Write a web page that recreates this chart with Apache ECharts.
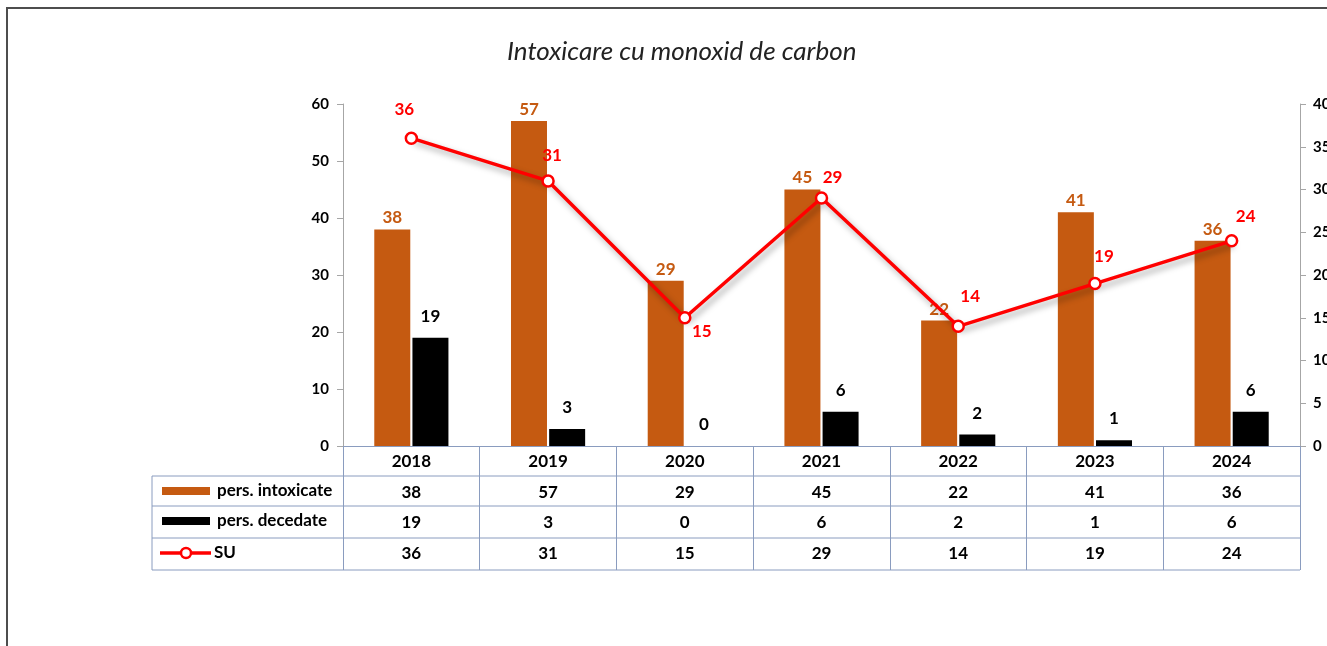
<!DOCTYPE html>
<html>
<head>
<meta charset="utf-8">
<script src="https://cdn.jsdelivr.net/npm/echarts@6/dist/echarts.min.js"></script>
<style>
  html, body { margin: 0; padding: 0; background: #fff; }
  #chart { width: 1327px; height: 646px; }
</style>
</head>
<body>
<div id="chart"></div>
<script>
// Intoxicare cu monoxid de carbon - bars + line + data table

const years = ['2018', '2019', '2020', '2021', '2022', '2023', '2024'];
const intoxicated = [38, 57, 29, 45, 22, 41, 36];
const deceased = [19, 3, 0, 6, 2, 1, 6];
const su = [36, 31, 15, 29, 14, 19, 24];
const seriesNames = ['pers. intoxicate', 'pers. decedate', 'SU'];

// label offsets for the SU line (style only)
const suLabelOffsets = [[-7, -29], [4, -25], [17, 14], [11, -21], [12, -30], [9, -27], [14, -24]];

const FONT = 'Lato, "Open Sans", sans-serif';
const ORANGE = '#c55a11';
const RED = '#ff0000';
const TABLE = '#8a9cbf';

// layout
const gridLeft = 343, gridTop = 104, gridBottomY = 446, gridRightX = 1300;
const tableLeft = 152;
const rowLines = [476, 506, 538, 570];
const rowMid = [491, 521, 553];

const chart = echarts.init(document.getElementById('chart'));

const suData = su.map((v, i) => ({
    value: v,
    label: { offset: suLabelOffsets[i] }
}));

const graphics = [
    // outer frame
    { type: 'rect', shape: { x: 7, y: 8, width: 1360, height: 680 },
      style: { fill: null, stroke: '#4d4d4d', lineWidth: 2 }, silent: true },
    // table left border
    { type: 'line', shape: { x1: tableLeft, y1: rowLines[0], x2: tableLeft, y2: rowLines[3] },
      style: { stroke: TABLE, lineWidth: 1 } }
];
rowLines.forEach(y => {
    graphics.push({ type: 'line', shape: { x1: tableLeft, y1: y, x2: gridRightX, y2: y },
        style: { stroke: TABLE, lineWidth: 1 } });
});
// legend keys
graphics.push(
    { type: 'rect', shape: { x: 162, y: rowMid[0] - 4, width: 48, height: 8 }, style: { fill: ORANGE } },
    { type: 'rect', shape: { x: 162, y: rowMid[1] - 4, width: 48, height: 8 }, style: { fill: '#000' } },
    { type: 'line', shape: { x1: 160, y1: rowMid[2], x2: 211, y2: rowMid[2] }, style: { stroke: RED, lineWidth: 3.5 } },
    { type: 'circle', shape: { cx: 186, cy: rowMid[2], r: 5 }, style: { fill: '#fff', stroke: RED, lineWidth: 2.5 } }
);
seriesNames.forEach((n, i) => {
    graphics.push({ type: 'text', x: i === 2 ? 214 : 217, y: rowMid[i],
        style: { text: n, font: 'bold 17px ' + FONT, fill: '#000', verticalAlign: 'middle' } });
});

const option = {
    animation: false,
    backgroundColor: '#fff',
    title: {
        text: 'Intoxicare cu monoxid de carbon',
        left: 502,
        top: 34,
        textStyle: { fontFamily: FONT, fontStyle: 'italic', fontWeight: 'normal', fontSize: 26, color: '#222' }
    },
    grid: {
        left: gridLeft, top: gridTop, right: 1327 - gridRightX, bottom: 646 - gridBottomY,
        outerBoundsMode: 'none'
    },
    xAxis: {
        type: 'category',
        data: years,
        axisLine: { lineStyle: { color: TABLE, width: 1 } },
        axisTick: { show: true, interval: 0, length: 124, lineStyle: { color: TABLE } },
        axisLabel: {
            interval: 0,
            margin: 0,
            fontFamily: FONT,
            fontWeight: 'bold',
            fontSize: 17,
            color: '#000',
            lineHeight: 30.7,
            formatter: (v, i) => [v, intoxicated[i], deceased[i], su[i]].join('\n')
        }
    },
    yAxis: [{
        type: 'value', min: 0, max: 60, interval: 10,
        axisLine: { show: true, lineStyle: { color: '#a6a6a6' } },
        axisTick: { show: true, length: 6, lineStyle: { color: '#a6a6a6' } },
        splitLine: { show: false },
        axisLabel: { fontFamily: FONT, fontWeight: 'bold', fontSize: 15, color: '#000', margin: 14 }
    }, {
        type: 'value', min: 0, max: 40, interval: 5,
        axisLine: { show: true, lineStyle: { color: '#a6a6a6' } },
        axisTick: { show: true, length: 6, lineStyle: { color: '#a6a6a6' } },
        splitLine: { show: false },
        axisLabel: { fontFamily: FONT, fontWeight: 'bold', fontSize: 15, color: '#000', margin: 13 }
    }],
    series: [{
        name: seriesNames[0],
        type: 'bar',
        data: intoxicated,
        barWidth: 36,
        barGap: '6%',
        itemStyle: { color: ORANGE },
        label: { show: true, position: 'top', distance: 3, fontFamily: FONT, fontWeight: 'bold', fontSize: 17, color: ORANGE }
    }, {
        name: seriesNames[1],
        type: 'bar',
        data: deceased,
        barWidth: 36,
        itemStyle: { color: '#000' },
        label: { show: true, position: 'top', distance: 13, fontFamily: FONT, fontWeight: 'bold', fontSize: 17, color: '#000' }
    }, {
        name: seriesNames[2],
        type: 'line',
        yAxisIndex: 1,
        data: suData,
        symbol: 'circle',
        symbolSize: 11,
        z: 5,
        lineStyle: { color: RED, width: 3.5, shadowColor: 'rgba(0,0,0,0.35)', shadowBlur: 6, shadowOffsetX: 3, shadowOffsetY: 4 },
        itemStyle: { color: '#fff', borderColor: RED, borderWidth: 2.5 },
        label: { show: true, position: 'inside', fontFamily: FONT, fontWeight: 'bold', fontSize: 17, color: RED }
    }],
    graphic: graphics
};

chart.setOption(option);
</script>
</body>
</html>
